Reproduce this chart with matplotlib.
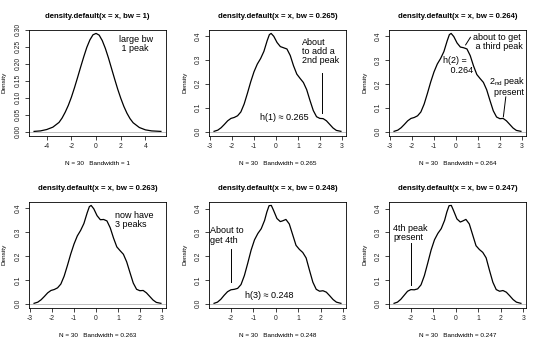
import matplotlib
matplotlib.use("Agg")
import matplotlib.pyplot as plt
from matplotlib.ticker import MultipleLocator, FormatStrFormatter

plt.rcParams['font.family'] = ['Liberation Sans', 'DejaVu Sans']
plt.rcParams['mathtext.fontset'] = 'custom'
plt.rcParams['mathtext.rm'] = 'Liberation Sans'
plt.rcParams['axes.unicode_minus'] = False

# density curves
x_bw1 = [-5.02, -4.5, -4.0, -3.5, -3.0, -2.75, -2.5, -2.25, -2.0, -1.75, -1.5, -1.25,
         -1.0, -0.75, -0.5, -0.25, 0.0, 0.25, 0.5, 0.75, 1.0, 1.25, 1.5, 1.75, 2.0,
         2.25, 2.5, 2.75, 3.0, 3.5, 4.0, 4.5, 5.25]
y_bw1 = [0.0005, 0.002, 0.006, 0.013, 0.027, 0.040, 0.057, 0.077, 0.101, 0.129, 0.159, 0.190,
         0.220, 0.248, 0.270, 0.285, 0.289, 0.284, 0.268, 0.245, 0.217, 0.186, 0.155, 0.125, 0.098,
         0.074, 0.054, 0.038, 0.026, 0.012, 0.005, 0.002, 0.0005]

x_a = [-2.82, -2.65, -2.5, -2.35, -2.2, -2.05, -1.9, -1.75, -1.6, -1.45, -1.3, -1.15,
       -1.0, -0.85, -0.7, -0.55, -0.4, -0.3, -0.22, -0.1, 0.05, 0.2, 0.35, 0.5, 0.65,
       0.8, 0.95, 1.1, 1.25, 1.4, 1.55, 1.7, 1.85, 2.0, 2.15, 2.3, 2.45, 2.6, 2.75, 2.96]
y_bw265 = [0.001, 0.006, 0.016, 0.030, 0.045, 0.055, 0.059, 0.066, 0.082, 0.115, 0.160, 0.208,
           0.250, 0.282, 0.305, 0.335, 0.380, 0.405, 0.410, 0.398, 0.372, 0.355, 0.350, 0.345, 0.318,
           0.275, 0.240, 0.222, 0.205, 0.175, 0.130, 0.088, 0.062, 0.055, 0.054, 0.045, 0.030, 0.015, 0.005, 0.001]
y_bw264 = [0.001, 0.006, 0.016, 0.030, 0.045, 0.055, 0.059, 0.066, 0.082, 0.115, 0.160, 0.208,
           0.250, 0.283, 0.306, 0.335, 0.380, 0.406, 0.411, 0.398, 0.371, 0.354, 0.351, 0.346, 0.318,
           0.275, 0.239, 0.222, 0.206, 0.175, 0.130, 0.087, 0.061, 0.054, 0.055, 0.045, 0.030, 0.015, 0.005, 0.001]
y_bw263 = [0.001, 0.006, 0.016, 0.030, 0.045, 0.055, 0.059, 0.066, 0.082, 0.115, 0.160, 0.208,
           0.250, 0.284, 0.307, 0.336, 0.381, 0.407, 0.412, 0.398, 0.369, 0.352, 0.353, 0.347, 0.318,
           0.275, 0.238, 0.222, 0.207, 0.175, 0.130, 0.086, 0.060, 0.054, 0.055, 0.045, 0.030, 0.015, 0.005, 0.001]

x_b = [-2.75, -2.6, -2.45, -2.3, -2.15, -2.0, -1.85, -1.7, -1.55, -1.4, -1.25, -1.1,
       -0.95, -0.8, -0.65, -0.5, -0.4, -0.3, -0.2, -0.1, 0.05, 0.2, 0.3, 0.45, 0.6,
       0.75, 0.9, 1.05, 1.2, 1.35, 1.5, 1.65, 1.8, 1.95, 2.1, 2.25, 2.4, 2.55, 2.7, 2.9]
y_bw248 = [0.001, 0.006, 0.018, 0.035, 0.050, 0.058, 0.060, 0.064, 0.080, 0.118, 0.170, 0.225,
           0.268, 0.295, 0.315, 0.350, 0.385, 0.412, 0.413, 0.392, 0.358, 0.345, 0.348, 0.354, 0.335,
           0.290, 0.245, 0.228, 0.215, 0.192, 0.140, 0.090, 0.060, 0.052, 0.054, 0.048, 0.033, 0.017, 0.006, 0.001]
y_bw247 = [0.001, 0.006, 0.018, 0.035, 0.052, 0.059, 0.058, 0.062, 0.079, 0.118, 0.171, 0.226,
           0.269, 0.296, 0.316, 0.351, 0.386, 0.413, 0.414, 0.392, 0.357, 0.344, 0.348, 0.355, 0.336,
           0.290, 0.244, 0.228, 0.216, 0.193, 0.140, 0.090, 0.059, 0.052, 0.055, 0.048, 0.033, 0.017, 0.006, 0.001]

bandwidths = ['1', '0.265', '0.264', '0.263', '0.248', '0.247']
n_obs = 30

fig = plt.figure(figsize=(5.4, 3.45), dpi=100)

W, H = 540.0, 345.0
lefts = [29, 209, 389]
bottoms = [135.5, 307.5]


def r_density_panel(col, row, xs, ys, bw, ystep, yfmt, xstep):
    ax = fig.add_axes([lefts[col] / W, 1 - bottoms[row] / H, 137 / W, 106 / H])
    ax.plot(xs, ys, color='black', lw=0.9)
    ax.axhline(0, color='#bebebe', lw=0.7, zorder=0)
    xr = max(xs) - min(xs)
    yr = max(ys)
    ax.set_xlim(min(xs) - 0.04 * xr, max(xs) + 0.04 * xr)
    ax.set_ylim(-0.04 * yr, yr * 1.04)
    ax.xaxis.set_major_locator(MultipleLocator(xstep))
    ax.yaxis.set_major_locator(MultipleLocator(ystep))
    ax.yaxis.set_major_formatter(FormatStrFormatter(yfmt))
    ax.tick_params(direction='out', length=3, width=0.6, labelsize=4.9, pad=2.3,
                   colors='#222222')
    for lab in ax.get_yticklabels():
        lab.set_rotation(90)
        lab.set_va('center')
    for s in ax.spines.values():
        s.set_linewidth(0.6)
    ax.set_title('density.default(x = x, bw = %s)' % bw, fontsize=5.6,
                 fontweight='bold', pad=8)
    ax.set_xlabel('N = %d   Bandwidth = %s' % (n_obs, bw), fontsize=4.6, labelpad=8)
    ax.set_ylabel('Density', fontsize=4.6, labelpad=5.5)
    return ax


tfs = 6.5

ax1 = r_density_panel(0, 0, x_bw1, y_bw1, bandwidths[0], 0.05, '%.2f', 2)
ax1.text(1.82, 0.285, 'large bw\n 1 peak', fontsize=tfs, va='top', ha='left', linespacing=1.0)

ax2 = r_density_panel(1, 0, x_a, y_bw265, bandwidths[1], 0.1, '%.1f', 1)
ax2.text(1.19, 0.392, 'About\nto add a\n2nd peak', fontsize=tfs, va='top', ha='left', linespacing=1.05)
ax2.plot([2.11, 2.11], [0.076, 0.245], color='black', lw=0.7)
ax2.text(-0.72, 0.06, 'h(1) \u2248 0.265', fontsize=tfs, va='center', ha='left')

ax3 = r_density_panel(2, 0, x_a, y_bw264, bandwidths[2], 0.1, '%.1f', 1)
ax3.text(0.78, 0.412, 'about to get\n a third peak', fontsize=tfs, va='top', ha='left', linespacing=1.0)
ax3.plot([0.44, 0.66], [0.363, 0.395], color='black', lw=0.7)
ax3.text(-0.61, 0.315, 'h(2) =\n   0.264', fontsize=tfs, va='top', ha='left', linespacing=1.05)
ax3.text(1.5, 0.235, '2$\\mathregular{_{nd}}$ peak\n  present', fontsize=tfs, va='top', ha='left', linespacing=1.0)
ax3.plot([2.16, 2.27], [0.062, 0.145], color='black', lw=0.7)

ax4 = r_density_panel(0, 1, x_a, y_bw263, bandwidths[3], 0.1, '%.1f', 1)
ax4.text(0.89, 0.39, 'now have\n3 peaks', fontsize=tfs, va='top', ha='left', linespacing=1.0)

ax5 = r_density_panel(1, 1, x_b, y_bw248, bandwidths[4], 0.1, '%.1f', 1)
ax5.text(-2.94, 0.325, 'About to\nget 4th', fontsize=tfs, va='top', ha='left', linespacing=1.05)
ax5.plot([-2.0, -2.0], [0.091, 0.228], color='black', lw=0.7)
ax5.text(-1.39, 0.035, 'h(3) \u2248 0.248', fontsize=tfs, va='center', ha='left')

ax6 = r_density_panel(2, 1, x_b, y_bw247, bandwidths[5], 0.1, '%.1f', 1)
ax6.text(-2.79, 0.335, '4th peak\npresent', fontsize=tfs, va='top', ha='left', linespacing=1.0)
ax6.plot([-2.0, -2.0], [0.08, 0.255], color='black', lw=0.7)

fig.savefig('out.png', dpi=100)
